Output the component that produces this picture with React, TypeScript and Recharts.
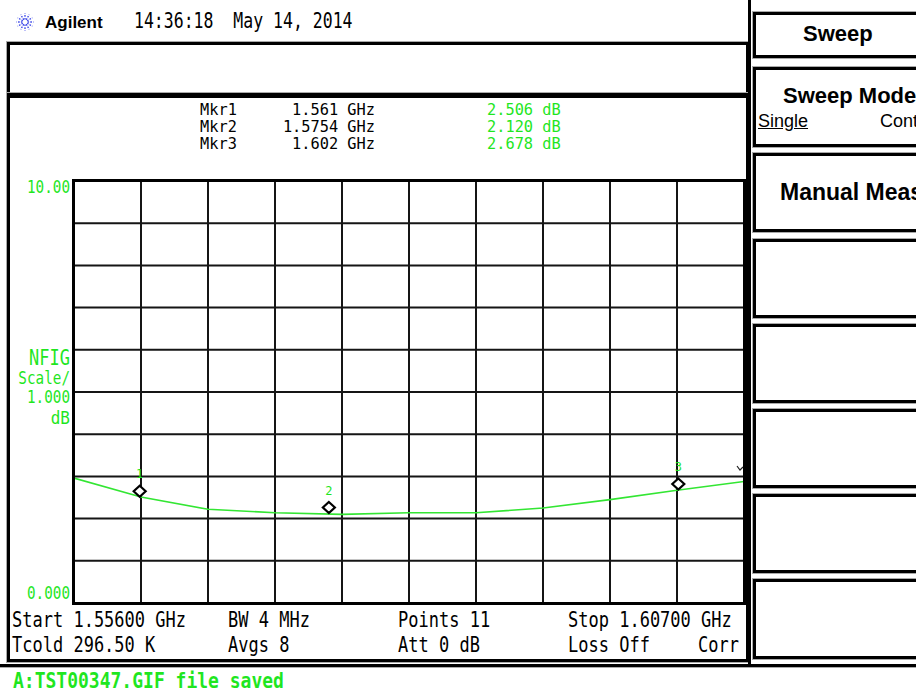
import React from "react";
import { ComposedChart, Line, Scatter, XAxis, YAxis, CartesianGrid } from "recharts";

// 11 measurement points, 1.556 -> 1.607 GHz
const freqGHz = [1.556, 1.5611, 1.5662, 1.5713, 1.5764, 1.5815, 1.5866, 1.5917, 1.5968, 1.6019, 1.607];
const noiseFigureDb = [2.96, 2.51, 2.22, 2.14, 2.1, 2.14, 2.14, 2.25, 2.45, 2.67, 2.88];

const markerNames = ["1", "2", "3"];
const markerFreqGHz = [1.561, 1.5754, 1.602];
const markerDb = [2.506, 2.12, 2.678];
const markerFreqText = ["1.561 GHz", "1.5754 GHz", "1.602 GHz"];
const markerDbText = ["2.506 dB", "2.120 dB", "2.678 dB"];

const yTicks = [0, 1, 2, 3, 4, 5, 6, 7, 8, 9, 10];

const trace = freqGHz.map((f, i) => ({ f, nf: noiseFigureDb[i] }));
const markers = markerFreqGHz.map((f, i) => ({ f, nf: markerDb[i], name: markerNames[i] }));

const GREEN = "#1fe61f";
const MONO = "'DejaVu Sans Mono', 'Liberation Mono', monospace";
const SANS = "'Liberation Sans', Arial, sans-serif";

interface TProps {
  x: number;
  y: number;
  size?: number;
  sy?: number;
  color?: string;
  right?: boolean;
  bold?: boolean;
  family?: string;
  underline?: boolean;
  children: React.ReactNode;
}

function T({ x, y, size = 15, sy = 1.25, color = "#000", right, bold, family = MONO, underline, children }: TProps) {
  const pos: React.CSSProperties = right ? { right: 916 - x } : { left: x };
  return (
    <div
      style={{
        position: "absolute",
        top: y,
        ...pos,
        fontFamily: family,
        fontSize: size,
        fontWeight: bold ? 700 : 400,
        color,
        lineHeight: 1,
        whiteSpace: "pre",
        transform: `translateY(-50%) scaleY(${sy})`,
        textDecoration: underline ? "underline" : undefined,
      }}
    >
      {children}
    </div>
  );
}

function MarkerShape(props: any) {
  const { cx, cy, payload } = props;
  const y = cy - 6;
  return (
    <g>
      <path
        d={`M${cx},${y - 5.5} L${cx + 6},${y} L${cx},${y + 5.5} L${cx - 6},${y} Z`}
        fill="#fff"
        stroke="#000"
        strokeWidth={2.2}
      />
      <text x={cx} y={y - 13} textAnchor="middle" fontSize={12} fontFamily={MONO} fill={GREEN}>
        {payload.name}
      </text>
    </g>
  );
}

function Box({ left, top, width, height, thick = 3, topThick }: { left: number; top: number; width: number; height: number; thick?: number; topThick?: number }) {
  return (
    <div
      style={{
        position: "absolute",
        left,
        top,
        width,
        height,
        boxSizing: "border-box",
        border: `${thick}px solid #000`,
        borderTopWidth: topThick ?? thick,
        boxShadow: "0 0 0 1px #aaa",
      }}
    />
  );
}

const keyTops = [12, 67, 153, 239, 324, 409, 494, 579];
const keyBottoms = [58, 147, 232, 318, 403, 488, 573, 659];

function Logo() {
  const rays = Array.from({ length: 12 }, (_, i) => (i * Math.PI) / 6);
  return (
    <svg width={20} height={20} style={{ position: "absolute", left: 15, top: 12 }}>
      {rays.map((a, i) => (
        <line
          key={i}
          x1={10 + Math.cos(a) * 2.5}
          y1={10 + Math.sin(a) * 2.5}
          x2={10 + Math.cos(a) * 8.5}
          y2={10 + Math.sin(a) * 8.5}
          stroke="#3a46e8"
          strokeWidth={1.3}
          strokeDasharray="1.6 1.2"
        />
      ))}
    </svg>
  );
}

export default function App() {
  return (
    <div style={{ position: "absolute", left: 0, top: 0, width: 916, height: 693, overflow: "hidden", background: "#fff" }}>
      <Logo />
      <T x={45} y={22} size={17} sy={1} bold family={SANS}>Agilent</T>
      <T x={134} y={22} size={16.5} sy={1.3}>14:36:18  May 14, 2014</T>

      <Box left={7} top={42} width={742} height={54} />
      <Box left={7} top={93} width={742} height={569} topThick={5} />

      <div style={{ position: "absolute", left: 0, top: 0 }}>
        <ComposedChart width={916} height={693} margin={{ top: 181, right: 172, bottom: 90, left: 74 }}>
          <CartesianGrid stroke="#151515" strokeWidth={2} horizontal vertical />
          <XAxis type="number" dataKey="f" domain={[1.556, 1.607]} ticks={freqGHz} hide allowDataOverflow />
          <YAxis type="number" domain={[0, 10]} ticks={yTicks} hide allowDataOverflow />
          <Line data={trace} dataKey="nf" stroke="#33e633" strokeWidth={1.6} dot={false} isAnimationActive={false} />
          <Scatter data={markers} dataKey="nf" shape={<MarkerShape />} isAnimationActive={false} />
        </ComposedChart>
      </div>

      <div style={{ position: "absolute", left: 72, top: 179, width: 674, height: 426, boxSizing: "border-box", border: "3px solid #000" }} />
      <svg width={12} height={10} style={{ position: "absolute", left: 735, top: 464 }}>
        <path d="M2,2 L5,6 L8,3" fill="none" stroke="#222" strokeWidth={1.2} />
      </svg>

      {markerNames.map((n, i) => (
        <React.Fragment key={n}>
          <T x={200} y={111 + i * 17} size={15.3} sy={1}>{`Mkr${n}`}</T>
          <T x={375} y={111 + i * 17} size={15.3} sy={1} right>{markerFreqText[i]}</T>
          <T x={487} y={111 + i * 17} size={15.3} sy={1} color={GREEN}>{markerDbText[i]}</T>
        </React.Fragment>
      ))}

      <T x={70} y={187} size={14.3} sy={1.25} color={GREEN} right>10.00</T>
      <T x={70} y={593} size={14.3} sy={1.25} color={GREEN} right>0.000</T>
      <T x={70} y={358} size={17} sy={1.25} color={GREEN} right>NFIG</T>
      <T x={70} y={378} size={14.3} sy={1.2} color={GREEN} right>Scale/</T>
      <T x={70} y={397} size={14.3} sy={1.2} color={GREEN} right>1.000</T>
      <T x={70} y={418} size={16} sy={1.15} color={GREEN} right>dB</T>

      <T x={12} y={620} size={17} sy={1.2}>Start 1.55600 GHz</T>
      <T x={12} y={645} size={17} sy={1.2}>Tcold 296.50 K</T>
      <T x={228} y={620} size={17} sy={1.2}>BW 4 MHz</T>
      <T x={228} y={645} size={17} sy={1.2}>Avgs 8</T>
      <T x={398} y={620} size={17} sy={1.2}>Points 11</T>
      <T x={398} y={645} size={17} sy={1.2}>Att 0 dB</T>
      <T x={568} y={620} size={17} sy={1.2}>Stop 1.60700 GHz</T>
      <T x={568} y={645} size={17} sy={1.2}>Loss Off</T>
      <T x={739} y={645} size={17} sy={1.2} right>Corr</T>

      <div style={{ position: "absolute", left: 0, top: 664, width: 916, height: 3, background: "#000", boxShadow: "0 1px 0 #aaa" }} />
      <T x={13} y={681} size={18} sy={1.2} bold color={GREEN}>A:TST00347.GIF file saved</T>

      <div style={{ position: "absolute", left: 748, top: 0, width: 3, height: 665, background: "#000" }} />
      {keyTops.map((t, i) => (
        <Box key={t} left={753} top={t} width={180} height={keyBottoms[i] - t} />
      ))}
      <T x={803} y={34} size={22} sy={1} bold family={SANS}>Sweep</T>
      <T x={783} y={96} size={22} sy={1} bold family={SANS}>Sweep Mode</T>
      <T x={758} y={121} size={18} sy={1} family={SANS} underline>Single</T>
      <T x={880} y={121} size={18} sy={1} family={SANS}>Cont</T>
      <T x={780} y={192} size={23} sy={1} bold family={SANS}>Manual Meas</T>
    </div>
  );
}
